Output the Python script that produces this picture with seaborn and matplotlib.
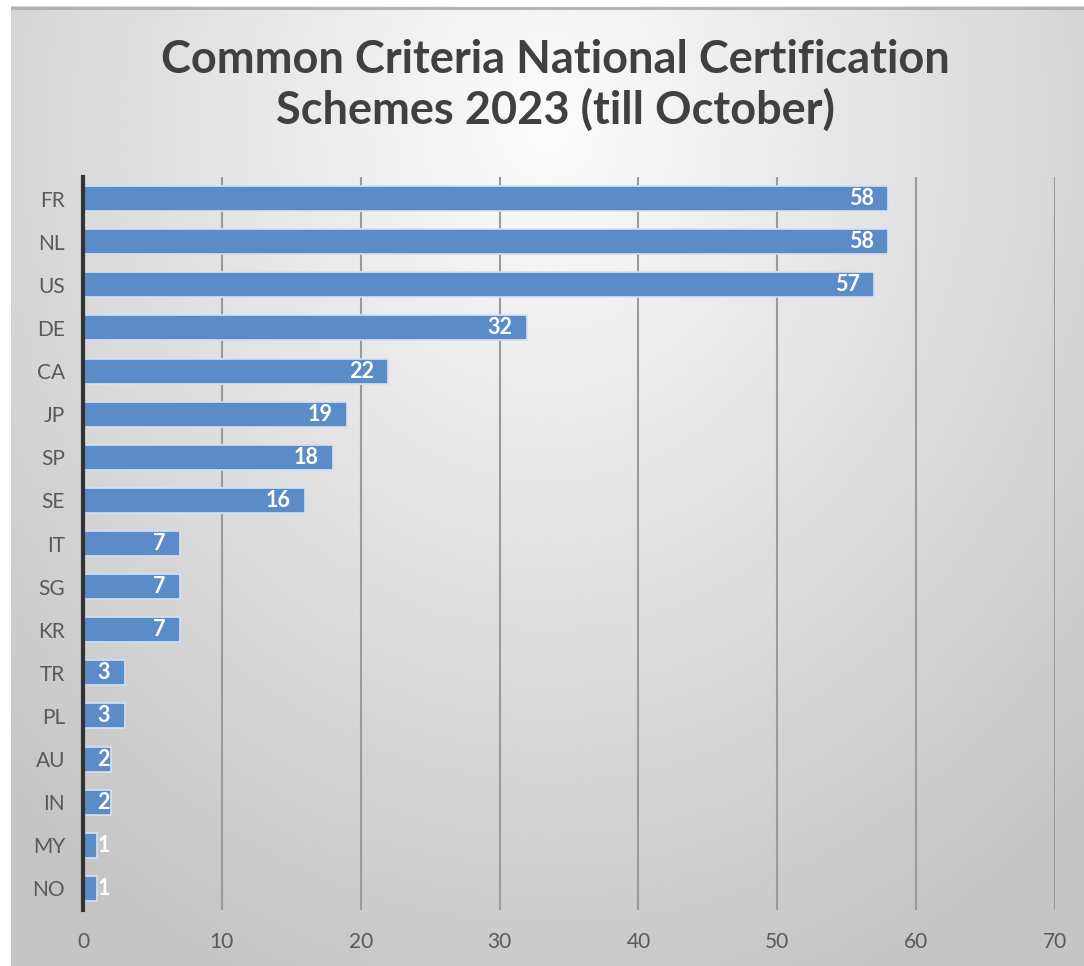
import matplotlib
matplotlib.use("Agg")
import matplotlib.pyplot as plt
import numpy as np
import pandas as pd
import seaborn as sns

countries = ["FR", "NL", "US", "DE", "CA", "JP", "SP", "SE", "IT", "SG", "KR",
             "TR", "PL", "AU", "IN", "MY", "NO"]
counts = [58, 58, 57, 32, 22, 19, 18, 16, 7, 7, 7, 3, 3, 2, 2, 1, 1]
x_ticks = [0, 10, 20, 30, 40, 50, 60, 70]
title = "Common Criteria National Certification\nSchemes 2023 (till October)"

df = pd.DataFrame({"country": countries, "count": counts})

sns.set_theme(style="white")
plt.rcParams["font.family"] = ["Lato", "DejaVu Sans"]

W, H = 1084, 966
fig = plt.figure(figsize=(W / 100, H / 100), dpi=100)
fig.patch.set_facecolor("white")

# radial grey background like the Excel chart area
bg = fig.add_axes([11 / W, 0, 1 - 11 / W, (H - 6) / H])
yy, xx = np.mgrid[0:1:400j, 0:1:450j]
r = np.sqrt(((xx - 0.5) / 0.75) ** 2 + ((yy - 0.12) / 1.0) ** 2)
shade = np.clip(0.985 - 0.22 * r, 0.77, 1)
bg.imshow(shade, cmap="gray", vmin=0, vmax=1, aspect="auto",
          extent=[0, 1, 1, 0], interpolation="bicubic")
bg.plot([0, 1], [0.998, 0.998], color="#b0b0b0", lw=2, transform=bg.transAxes)
bg.set_axis_off()

ax = fig.add_axes([83 / W, 1 - 910 / H, (1055 - 83) / W, (910 - 177) / H])
ax.patch.set_alpha(0)

sns.barplot(data=df, x="count", y="country", orient="h", color="#5b8cc7",
            saturation=1, width=0.58, edgecolor="#d2e2f4", linewidth=1.2, ax=ax)

for i, v in enumerate(counts):
    ax.text(max(v - 1.05, 1.95), i, str(v), ha="right", va="center",
            color="white", fontsize=15.5, fontweight="bold")

ax.set_xlim(0, 70)
ax.set_xticks(x_ticks)
ax.set_xlabel("")
ax.set_ylabel("")
ax.grid(axis="x", color="#9a9a9a", lw=1.5)
ax.set_axisbelow(True)
for s in ["top", "right", "bottom"]:
    ax.spines[s].set_visible(False)
ax.spines["left"].set_color("#333333")
ax.spines["left"].set_linewidth(3)
ax.tick_params(axis="both", length=0, labelsize=15, labelcolor="#595959")
ax.tick_params(axis="x", pad=16)
ax.tick_params(axis="y", pad=13)

fig.text(0.512, 1 - 85 / H, title, ha="center", va="center", fontsize=32.5,
         fontweight="bold", color="#404040", linespacing=1.2)

fig.savefig("out.png", dpi=100)
